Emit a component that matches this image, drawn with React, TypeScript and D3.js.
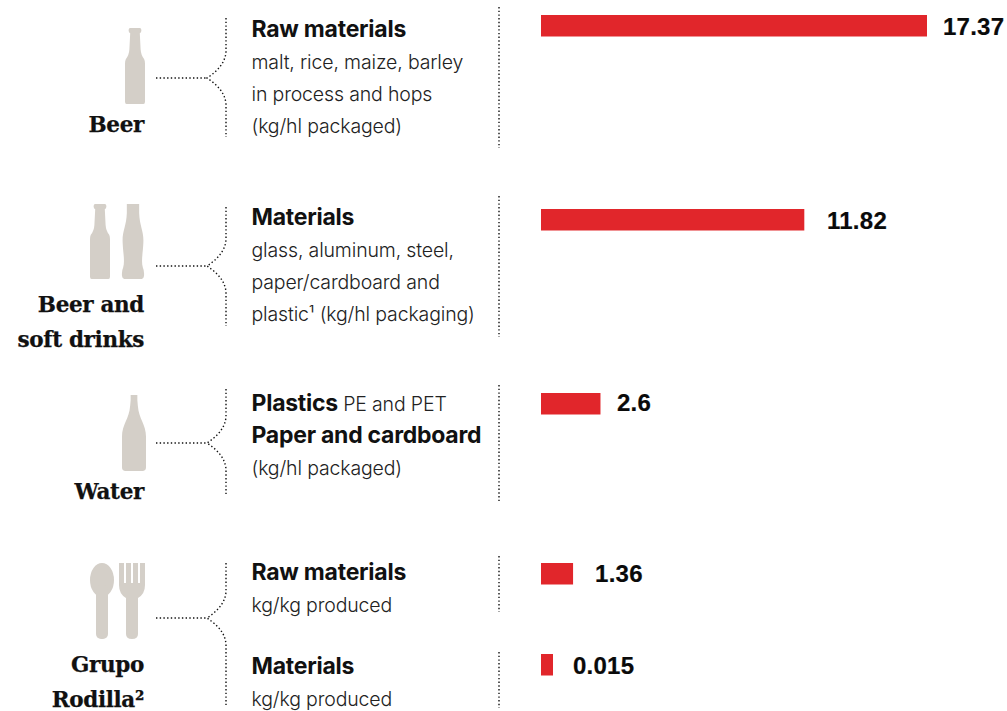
import React from "react";
import * as d3 from "d3";

const valueLabels = ["17.37", "11.82", "2.6", "1.36", "0.015"];
const values = [17.37, 11.82, 2.6, 1.36, 0.015];

const barTops = [15, 209, 393, 563, 654];
const labelBaselines = [35, 229, 411, 582, 674];
const labelGaps = [16, 22.7, 16.5, 22, 20];
const separators: [number, number][] = [[7, 148], [196, 337], [385, 501], [556, 612], [652, 708]];
const braces: [number, number, number][] = [[18, 78, 137], [207, 266, 326], [389, 443, 494], [563, 618, 705]];

const BAR_X = 541;
const xScale = d3.scaleLinear().domain([0, 17.37]).range([2, 386]);
const barWidth = (v: number) => Math.max(12, xScale(v));

const SERIF = "'DejaVu Serif', serif";
const SANS = "Inter, Roboto, sans-serif";
const NUM = "'Liberation Sans', Arial, sans-serif";
const GREY = "#d4cfc8";
const RED = "#e1262b";

function beerBottle(x: number, y: number, w: number, h: number) {
  const X = (t: number) => x + t * w;
  const Y = (t: number) => y + t * h;
  return `M${X(0.26)},${Y(0)} L${X(0.74)},${Y(0)} Q${X(0.82)},${Y(0)} ${X(0.82)},${Y(0.03)} Q${X(0.82)},${Y(0.06)} ${X(0.74)},${Y(0.07)}
  L${X(0.78)},${Y(0.28)} Q${X(0.8)},${Y(0.36)} ${X(0.96)},${Y(0.41)} Q${X(1)},${Y(0.43)} ${X(1)},${Y(0.47)} L${X(1)},${Y(0.97)} Q${X(1)},${Y(1)} ${X(0.92)},${Y(1)}
  L${X(0.08)},${Y(1)} Q${X(0)},${Y(1)} ${X(0)},${Y(0.97)} L${X(0)},${Y(0.47)} Q${X(0)},${Y(0.43)} ${X(0.04)},${Y(0.41)} Q${X(0.2)},${Y(0.36)} ${X(0.22)},${Y(0.28)}
  L${X(0.26)},${Y(0.07)} Q${X(0.18)},${Y(0.06)} ${X(0.18)},${Y(0.03)} Q${X(0.18)},${Y(0)} ${X(0.26)},${Y(0)} Z`;
}

function cokeBottle(x: number, y: number, w: number, h: number) {
  const X = (t: number) => x + t * w;
  const Y = (t: number) => y + t * h;
  return `M${X(0.22)},${Y(0)} L${X(0.78)},${Y(0)} L${X(0.78)},${Y(0.12)} C${X(0.8)},${Y(0.3)} ${X(1)},${Y(0.36)} ${X(0.97)},${Y(0.52)}
  C${X(0.95)},${Y(0.66)} ${X(0.86)},${Y(0.76)} ${X(0.95)},${Y(0.85)} Q${X(1.02)},${Y(0.89)} ${X(1)},${Y(0.96)} Q${X(0.98)},${Y(1)} ${X(0.9)},${Y(1)}
  L${X(0.1)},${Y(1)} Q${X(0.02)},${Y(1)} ${X(0)},${Y(0.96)} Q${X(-0.02)},${Y(0.89)} ${X(0.05)},${Y(0.85)} C${X(0.14)},${Y(0.76)} ${X(0.05)},${Y(0.66)} ${X(0.03)},${Y(0.52)}
  C${X(0)},${Y(0.36)} ${X(0.2)},${Y(0.3)} ${X(0.22)},${Y(0.12)} Z`;
}

function waterBottle(x: number, y: number, w: number, h: number) {
  const X = (t: number) => x + t * w;
  const Y = (t: number) => y + t * h;
  return `M${X(0.36)},${Y(0)} L${X(0.64)},${Y(0)} L${X(0.64)},${Y(0.07)} L${X(0.66)},${Y(0.14)} C${X(0.7)},${Y(0.32)} ${X(1)},${Y(0.38)} ${X(1)},${Y(0.55)}
  L${X(1)},${Y(0.95)} Q${X(1)},${Y(1)} ${X(0.85)},${Y(1)} L${X(0.15)},${Y(1)} Q${X(0)},${Y(1)} ${X(0)},${Y(0.95)} L${X(0)},${Y(0.55)}
  C${X(0)},${Y(0.38)} ${X(0.3)},${Y(0.32)} ${X(0.34)},${Y(0.14)} L${X(0.36)},${Y(0.07)} Z`;
}

const Brace = ({ top, mid, bottom }: { top: number; mid: number; bottom: number }) => {
  const x = 226;
  const d1 = mid - 26;
  const d2 = mid + 26;
  const pathD = `M${x},${top} L${x},${d1} C${x - 1},${mid - 14} ${x - 10},${mid - 6} ${x - 19},${mid} C${x - 10},${mid + 6} ${x - 1},${mid + 14} ${x},${d2} L${x},${bottom}`;
  return (
    <g fill="none" stroke="#111" strokeWidth={1.4} strokeDasharray="1.4 2.3">
      <path d={pathD} />
      <path d={`M156,${mid} L${x - 19},${mid}`} />
    </g>
  );
};

const headStyle = { fontFamily: SANS, fontWeight: 700, fontSize: 23, fill: "#111", letterSpacing: -0.25 };
const bodyStyle = { fontFamily: SANS, fontWeight: 300, fontSize: 19.5, fill: "#222", letterSpacing: -0.15 };

const Head = ({ x, y, children }: any) => <text x={x} y={y} {...headStyle}>{children}</text>;
const Body = ({ x, y, children }: any) => <text x={x} y={y} {...bodyStyle}>{children}</text>;
const Cat = ({ y, children }: any) => (
  <text x={144} y={y} textAnchor="end" fontFamily={SERIF} fontWeight={700} fontSize={21.5} fill="#111" stroke="#111" strokeWidth={0.25} letterSpacing={-0.35}>{children}</text>
);

export default function App() {
  return (
    <svg width={1007} height={711} style={{ position: "absolute", left: 0, top: 0, background: "#fff" }}>
      <path d={beerBottle(125, 28, 20, 76)} fill={GREY} />
      <path d={beerBottle(90, 204, 20, 75)} fill={GREY} />
      <path d={cokeBottle(122, 204, 22, 75)} fill={GREY} />
      <path d={waterBottle(122, 395, 24, 76)} fill={GREY} />

      <g fill={GREY}>
        <ellipse cx={102} cy={580} rx={12} ry={17} />
        <rect x={96} y={585} width={12} height={54} rx={5} />
        <path d="M119,563 h5 v20 h2 v-20 h5 v20 h2 v-20 h5 v20 h2 v-20 h5 v22 q0,9 -7,13 v36 q0,5 -6,5 q-6,0 -6,-5 v-36 q-7,-4 -7,-13 Z" />
      </g>

      {braces.map(([t, m, b], i) => <Brace key={i} top={t} mid={m} bottom={b} />)}

      {separators.map(([a, b], i) => (
        <line key={i} x1={499} x2={499} y1={a} y2={b} stroke="#111" strokeWidth={1.4} strokeDasharray="1.4 2.3" />
      ))}

      <Cat y={132}>Beer</Cat>
      <Cat y={312}>Beer and</Cat>
      <Cat y={347}>soft drinks</Cat>
      <Cat y={499}>Water</Cat>
      <Cat y={672}>Grupo</Cat>
      <Cat y={707}>Rodilla²</Cat>

      <Head x={251.5} y={37}>Raw materials</Head>
      <Body x={251.5} y={69}>malt, rice, maize, barley</Body>
      <Body x={251.5} y={101}>in process and hops</Body>
      <Body x={251.5} y={133}>(kg/hl packaged)</Body>

      <Head x={251.5} y={225}>Materials</Head>
      <Body x={251.5} y={257}>glass, aluminum, steel,</Body>
      <Body x={251.5} y={289}>paper/cardboard and</Body>
      <Body x={251.5} y={321}>plastic¹ (kg/hl packaging)</Body>

      <text x={251.5} y={411}>
        <tspan {...headStyle}>Plastics </tspan>
        <tspan {...bodyStyle}>PE and PET</tspan>
      </text>
      <Head x={251.5} y={443}>Paper and cardboard</Head>
      <Body x={251.5} y={475}>(kg/hl packaged)</Body>

      <Head x={251.5} y={580}>Raw materials</Head>
      <Body x={251.5} y={612}>kg/kg produced</Body>
      <Head x={251.5} y={674}>Materials</Head>
      <Body x={251.5} y={706}>kg/kg produced</Body>

      {values.map((v, i) => {
        const w = barWidth(v);
        return (
          <g key={i}>
            <rect x={BAR_X} y={barTops[i]} width={w} height={21.5} fill={RED} />
            <text x={BAR_X + w + labelGaps[i]} y={labelBaselines[i]} fontFamily={NUM} fontWeight={700} fontSize={24} letterSpacing={0.25} fill="#0a0a0a" stroke="#0a0a0a" strokeWidth={0.2}>
              {valueLabels[i]}
            </text>
          </g>
        );
      })}
    </svg>
  );
}
